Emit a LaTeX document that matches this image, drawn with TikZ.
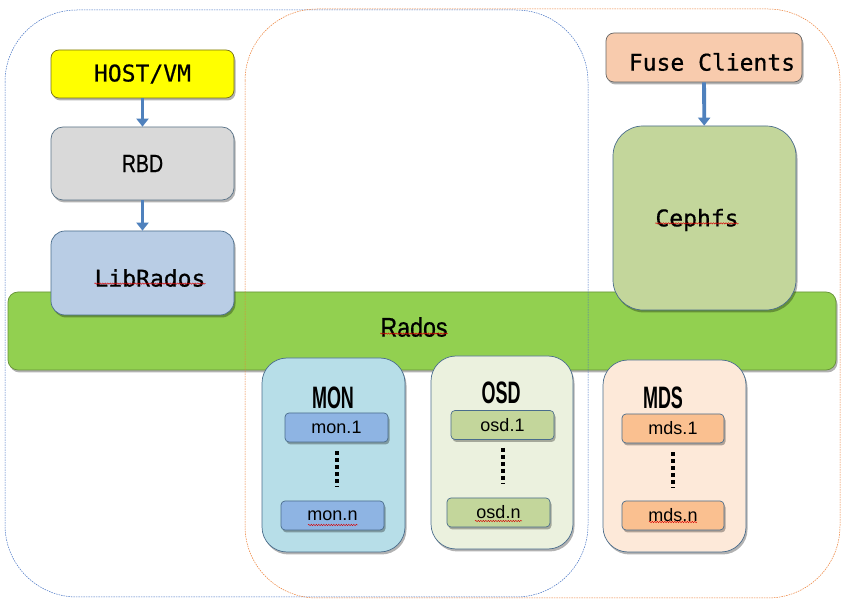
\documentclass[tikz,border=0pt]{standalone}
\usepackage{fontspec}
\setmainfont{Liberation Sans}
\newfontfamily\monofont[FakeBold=0.6]{DejaVu Sans Mono}
\newfontfamily\narrowA[FakeStretch=0.58]{Liberation Sans}
\newfontfamily\narrowB[FakeStretch=0.78,FakeBold=0.8]{Liberation Sans}
\newfontfamily\narrowC[FakeStretch=0.86,FakeBold=0.6]{Liberation Sans}
\usetikzlibrary{shadows,arrows.meta,decorations.pathmorphing}
\definecolor{cblue}{HTML}{4472C4}
\definecolor{corange}{HTML}{ED7D31}
\definecolor{arrowc}{HTML}{4F81BD}
\definecolor{edgec}{HTML}{4A6D8C}
\definecolor{hostf}{HTML}{FFFF00}
\definecolor{rbdf}{HTML}{D9D9D9}
\definecolor{libf}{HTML}{B9CDE5}
\definecolor{radosf}{HTML}{92D050}
\definecolor{fusef}{HTML}{F8CBAD}
\definecolor{cephf}{HTML}{C3D69B}
\definecolor{monf}{HTML}{B7DEE8}
\definecolor{monsub}{HTML}{8EB4E3}
\definecolor{osdf}{HTML}{EBF1DE}
\definecolor{osdsub}{HTML}{C3D69B}
\definecolor{mdsf}{HTML}{FDE9D9}
\definecolor{mdssub}{HTML}{FAC090}
\tikzset{
  layer/.style={rounded corners=#1, draw=edgec, line width=0.7pt, inner sep=0pt,
    drop shadow={shadow xshift=1.5pt, shadow yshift=-2.5pt, opacity=0.3, fill=black}},
  container/.style={rounded corners=72pt, line width=0.5pt, dash pattern=on 1.5pt off 1pt},
  flow/.style={draw=arrowc, line width=3.8pt, -{Triangle[width=12pt,length=8pt]}},
  dots/.style={line width=4pt, dash pattern=on 4pt off 3pt},
  sub/.style={layer=4pt, minimum width=103pt, minimum height=29pt, font=\fontsize{18}{20}\selectfont},
  mono/.style={font=\fontsize{23}{27}\monofont},
  head/.style={font=\fontsize{31}{33}\narrowA\bfseries, inner sep=0pt},
  squig/.style={draw=red!85!black, line width=0.45pt, decorate,
    decoration={snake, amplitude=0.7pt, segment length=2.5pt}}
}
\begin{document}
\begin{tikzpicture}[x=1pt,y=-1pt]
\useasboundingbox[fill=white] (0,0) rectangle (847,609);

% Rados bar
\node[layer=10pt, fill=radosf, draw=radosf!70!black, minimum width=828pt, minimum height=78pt] (rados) at (422,331) {};
\node[inner sep=0pt, font=\fontsize{27}{29}\narrowC] (radost) at (414,327) {Rados};

% dashed containers
\draw[container, draw=cblue] (5,10) rectangle (588,597);
\draw[container, draw=corange] (245,9) rectangle (840,598);

% left stack
\node[layer=8pt, fill=hostf, draw=olive!80!black, minimum width=183pt, minimum height=48pt, mono] (host) at (142.5,74) {HOST/VM};
\node[layer=12pt, fill=rbdf, draw=edgec!70!gray, minimum width=183pt, minimum height=73pt,
  font=\fontsize{25}{27}\narrowB] (rbd) at (142.5,163.5) {RBD};
\node[layer=14pt, fill=libf, minimum width=183pt, minimum height=84pt] (lib) at (142.5,273) {};
\node[inner sep=0pt, mono] (libt) at (150,278) {LibRados};
\draw[flow] (host) -- (rbd);
\draw[flow] (rbd) -- (lib);

% right stack
\node[layer=8pt, fill=fusef, draw=gray!80!black, minimum width=196pt, minimum height=49pt] (fuse) at (704,57.5) {};
\node[inner sep=0pt, mono] (fuset) at (712,62) {Fuse Clients};
\node[layer=30pt, fill=cephf, minimum width=183pt, minimum height=184pt] (ceph) at (704.5,218) {};
\node[inner sep=0pt, mono] (cepht) at (697,220) {Cephfs};
\draw[flow] (fuse) -- (ceph);

% MON
\node[layer=25pt, fill=monf, minimum width=143pt, minimum height=194pt] (mon) at (333.5,455) {};
\node[head] (monl) at (333,398) {MON};
\node[sub, fill=monsub] (mon1) at (336.5,427.5) {mon.1};
\node[sub, fill=monsub] (monn) at (332.5,515.5) {mon.n};
\draw[dots] (mon1.south) ++(0,9) coordinate (m1) -- ++(0,36) coordinate (m2);

% OSD
\node[layer=25pt, fill=osdf, minimum width=142pt, minimum height=193pt] (osd) at (502,452.5) {};
\node[head] (osdl) at (501,393) {OSD};
\node[sub, fill=osdsub] (osd1) at (502.5,425) {osd.1};
\node[sub, fill=osdsub] (osdn) at (498.5,512.5) {osd.n};
\draw[dots] (osd1.south) ++(0,8) coordinate (o1) -- ++(0,36) coordinate (o2);

% MDS
\node[layer=25pt, fill=mdsf, minimum width=143pt, minimum height=192pt] (mds) at (674.5,456) {};
\node[head] (mdsl) at (663,398) {MDS};
\node[sub, fill=mdssub, minimum width=102pt] (mds1) at (673,428.5) {mds.1};
\node[sub, fill=mdssub, minimum width=102pt] (mdsn) at (673,515.5) {mds.n};
\draw[dots] (mds1.south) ++(0,9) coordinate (d1) -- ++(0,36) coordinate (d2);

% spell-check squiggles
\draw[squig] ([yshift=3pt]libt.base west) -- ([yshift=3pt]libt.base east);
\draw[squig] ([yshift=3pt]cepht.base west) -- ([yshift=3pt]cepht.base east);
\draw[squig] ([yshift=3pt]radost.base west) -- ([yshift=3pt]radost.base east);
\draw[squig] (308,525) -- (358,525);
\draw[squig] (475,521) -- (522,521);
\draw[squig] (649,522) -- (697,522);
\end{tikzpicture}
\end{document}
